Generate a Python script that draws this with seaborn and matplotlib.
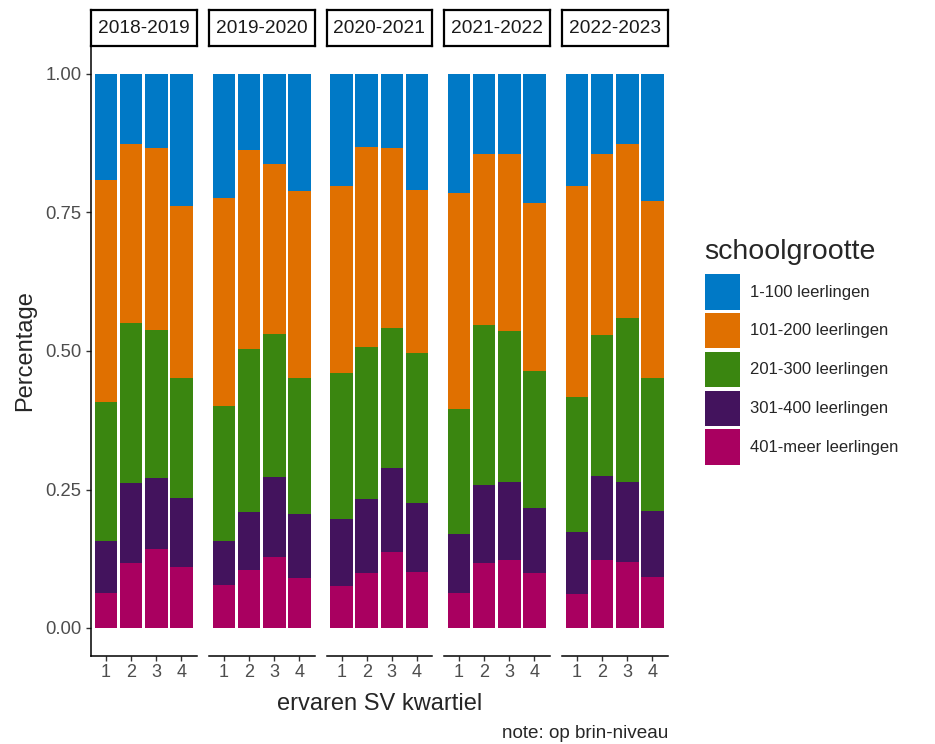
import numpy as np
import pandas as pd
import matplotlib
matplotlib.use("Agg")
import matplotlib.pyplot as plt
import seaborn as sns
from matplotlib.patches import Patch

# ---------------- data ----------------
years = ["2018-2019", "2019-2020", "2020-2021", "2021-2022", "2022-2023"]
kwartielen = ["1", "2", "3", "4"]
groottes = ["1-100 leerlingen", "101-200 leerlingen", "201-300 leerlingen",
            "301-400 leerlingen", "401-meer leerlingen"]

# shares per (year, kwartiel 1..4)
share_1_100 = [0.192, 0.126, 0.134, 0.239,
               0.224, 0.138, 0.162, 0.211,
               0.203, 0.131, 0.134, 0.209,
               0.214, 0.144, 0.145, 0.232,
               0.203, 0.145, 0.127, 0.229]
share_101_200 = [0.400, 0.324, 0.328, 0.309,
                 0.376, 0.359, 0.308, 0.337,
                 0.337, 0.362, 0.324, 0.294,
                 0.391, 0.309, 0.319, 0.305,
                 0.380, 0.327, 0.314, 0.320]
share_201_300 = [0.251, 0.288, 0.268, 0.218,
                 0.243, 0.293, 0.258, 0.246,
                 0.264, 0.274, 0.254, 0.271,
                 0.225, 0.289, 0.272, 0.246,
                 0.244, 0.254, 0.296, 0.239]
share_301_400 = [0.094, 0.144, 0.127, 0.124,
                 0.079, 0.106, 0.144, 0.116,
                 0.120, 0.133, 0.150, 0.125,
                 0.107, 0.141, 0.142, 0.117,
                 0.112, 0.152, 0.143, 0.120]
share_401_meer = [0.063, 0.118, 0.143, 0.110,
                  0.078, 0.104, 0.128, 0.090,
                  0.076, 0.100, 0.138, 0.101,
                  0.063, 0.117, 0.122, 0.100,
                  0.061, 0.122, 0.120, 0.092]

colors = ["#0079C6", "#E07000", "#3A8610", "#43135D", "#A90060"]
y_ticks = [0.00, 0.25, 0.50, 0.75, 1.00]
y_ticklabels = ["0.00", "0.25", "0.50", "0.75", "1.00"]

# ---------------- build table ----------------
shares = [share_1_100, share_101_200, share_201_300, share_301_400, share_401_meer]
rows = []
for i, y in enumerate(years):
    for j, k in enumerate(kwartielen):
        idx = i * 4 + j
        for g, s in zip(groottes, shares):
            rows.append({"jaar": y, "kwartiel": k, "schoolgrootte": g, "aandeel": s[idx]})
df = pd.DataFrame(rows)
df["aandeel"] = df["aandeel"] / df.groupby(["jaar", "kwartiel"])["aandeel"].transform("sum")
df["schoolgrootte"] = pd.Categorical(df["schoolgrootte"], groottes, ordered=True)
df = df.sort_values(["jaar", "kwartiel", "schoolgrootte"], ascending=[True, True, False])
df["cum"] = df.groupby(["jaar", "kwartiel"])["aandeel"].cumsum()

# ---------------- style ----------------
sns.set_style("ticks")
plt.rcParams["font.family"] = ["Liberation Sans", "DejaVu Sans"]

W, H = 935, 744
fig = plt.figure(figsize=(W / 100, H / 100), dpi=100)

panel_left = [91, 209, 326.5, 444, 562]
panel_w = 105.5
panel_top, panel_bot = 46.3, 655.7

def fx(px):
    return px / W

def fy(py):
    return 1 - py / H

tick_col = "#4D4D4D"
for i, y in enumerate(years):
    ax = fig.add_axes([fx(panel_left[i]), fy(panel_bot), fx(panel_w), (panel_bot - panel_top) / H])
    sub = df[df["jaar"] == y]
    for g, c in zip(groottes, colors):
        d = sub[sub["schoolgrootte"] == g]
        sns.barplot(data=d, x="kwartiel", y="cum", order=kwartielen, color=c,
                    saturation=1, width=0.9, errorbar=None, ax=ax,
                    linewidth=0, edgecolor="none")
    ax.set_xlim(-0.6, 3.6)
    ax.set_ylim(-0.05, 1.05)
    ax.set_xlabel("")
    ax.set_ylabel("")
    for s in ["top", "right"]:
        ax.spines[s].set_visible(False)
    ax.spines["bottom"].set_color("black")
    ax.spines["bottom"].set_linewidth(1.1)
    ax.tick_params(axis="x", length=3.4, width=1, color="#333333", labelcolor=tick_col,
                   labelsize=13, pad=2.5)
    if i == 0:
        ax.spines["left"].set_color("black")
        ax.spines["left"].set_linewidth(1.1)
        ax.set_yticks(y_ticks)
        ax.set_yticklabels(y_ticklabels)
        ax.tick_params(axis="y", length=3.4, width=1, color="#333333", labelcolor=tick_col,
                       labelsize=13.3, pad=3.5)
    else:
        ax.spines["left"].set_visible(False)
        ax.set_yticks([])
    # strip
    sax = fig.add_axes([fx(panel_left[i]), fy(45.5), fx(panel_w), 35.5 / H])
    sax.set_xticks([])
    sax.set_yticks([])
    for s in sax.spines.values():
        s.set_color("black")
        s.set_linewidth(1.6)
    sax.set_facecolor("white")
    sax.text(0.5, 0.48, y, ha="center", va="center", fontsize=13.8, color="#1A1A1A",
             transform=sax.transAxes)

fig.text(fx(379.5), fy(704), "ervaren SV kwartiel", ha="center", va="center", fontsize=17)
fig.text(fx(25), fy(351), "Percentage", ha="center", va="center", rotation=90, fontsize=17)
fig.text(fx(668), fy(734), "note: op brin-niveau", ha="right", va="center", fontsize=13.6)

fig.text(fx(704), fy(252), "schoolgrootte", ha="left", va="center", fontsize=20.5)
handles = [Patch(facecolor=c, edgecolor="none") for c in colors]
leg = fig.legend(handles, groottes, loc="upper left", bbox_to_anchor=(fx(705), fy(274)),
                 frameon=False, fontsize=12,
                 handlelength=2.1, handleheight=2.9, labelspacing=0.2,
                 handletextpad=0.6, borderpad=0, borderaxespad=0)

fig.savefig("out.png", dpi=100, facecolor="white")
